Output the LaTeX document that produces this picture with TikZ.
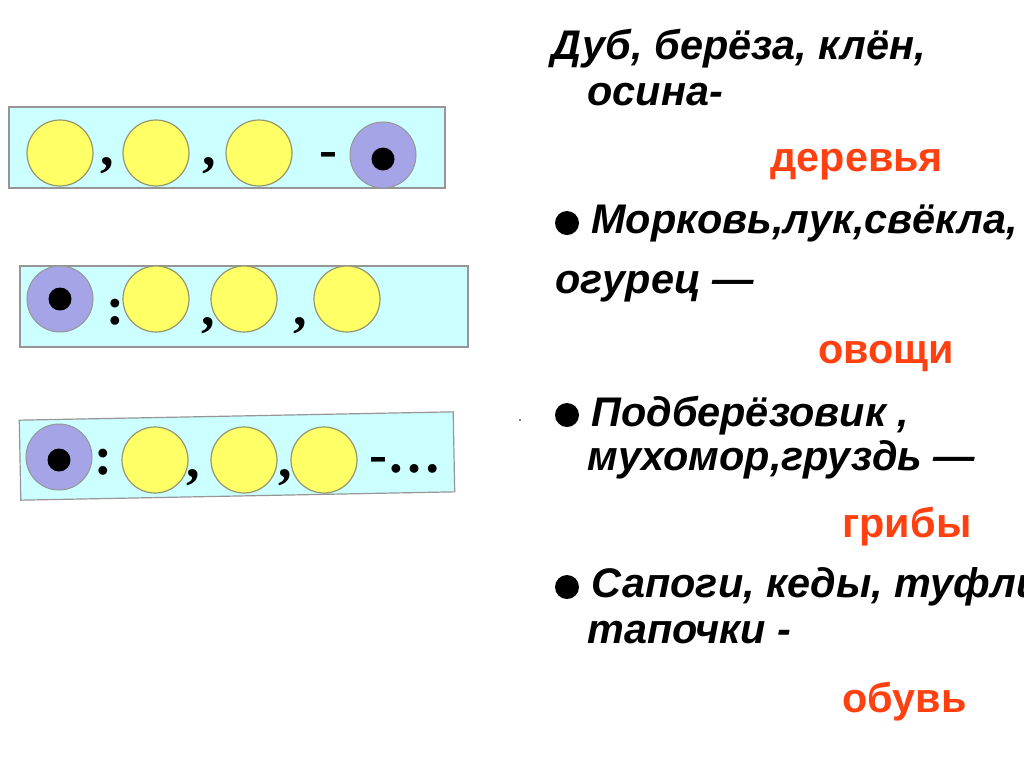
\documentclass[tikz,border=0pt]{standalone}
\usepackage{fontspec}
\setmainfont{Liberation Sans}
\newfontfamily\punctfont{Liberation Serif}
\usetikzlibrary{positioning}

\definecolor{boxcyan}{RGB}{204,255,255}
\definecolor{boxedge}{RGB}{150,150,150}
\definecolor{dotyellow}{RGB}{255,255,102}
\definecolor{dotedge}{RGB}{150,150,110}
\definecolor{setblue}{RGB}{164,164,230}
\definecolor{wordorange}{RGB}{255,64,16}

\begin{document}
\begin{tikzpicture}[x=0.5pt, y=-0.5pt,
  every node/.style={inner sep=0pt},
  rowbox/.style={fill=boxcyan, draw=boxedge, line width=0.6pt},
  member/.style={circle, fill=dotyellow, draw=dotedge, line width=0.6pt, minimum size=33pt},
  setring/.style={circle, fill=setblue, draw=boxedge, line width=0.5pt, minimum size=33pt},
  setcore/.style={circle, fill=black, minimum size=11.5pt},
  punct/.style={anchor=base, font=\punctfont\fontsize{27}{27}\selectfont\bfseries},
  item/.style={anchor=base west, font=\fontsize{20.7}{24}\selectfont\bfseries\itshape},
  group/.style={anchor=base west, text=wordorange, font=\fontsize{20.7}{24}\selectfont\bfseries},
  bullet/.style={circle, fill=black, minimum size=12pt}]
\useasboundingbox (0,0) rectangle (1024,767);
\fill[white] (0,0) rectangle (1024,767);

% first row: members, then the set
\draw[rowbox] (9,107) rectangle (445,188);
\node[member] (m11) at (60,153) {};
\node[member] (m12) at (156,153) {};
\node[member] (m13) at (259,153) {};
\node[setring] (s1) at (383,155) {};
\node[setcore] (c1) at (383,159) {};
\node[punct] (k11) at (107,165) {,};
\node[punct] (k12) at (209,165) {,};
\node[punct] (d1) at (328,167) {-};

% second row: the set, then members
\draw[rowbox] (20,266) rectangle (468,347);
\node[setring] (s2) at (60,299) {};
\node[setcore] (c2) at (60,299) {};
\node[punct] (p2) at (115,324) {:};
\node[member] (m21) at (156,299) {};
\node[member] (m22) at (244,299) {};
\node[member] (m23) at (347,299) {};
\node[punct] (k21) at (208,325) {,};
\node[punct] (k22) at (300,325) {,};

% third row, slightly tilted
\draw[rowbox, rotate around={1.1:(237,456)}] (20,416) rectangle (454,496);
\node[setring] (s3) at (59,457) {};
\node[setcore] (c3) at (59,460) {};
\node[punct] (p3) at (103,474) {:};
\node[member] (m31) at (155,460) {};
\node[member] (m32) at (244,460) {};
\node[member] (m33) at (324,460) {};
\node[punct] (k31) at (193,477) {,};
\node[punct] (k32) at (285,477) {,};
\node[punct, anchor=base west] (e3) at (369,472) {-\dots};

\fill (520,420) circle (0.8);

% words and their groups
\node[item] (t1) at (551,59) {Дуб, берёза, клён,};
\node[item] (t1b) at (587,105) {осина-};
\node[group] (g1) at (770,171) {деревья};

\node[bullet] (b2) at (567,223) {};
\node[item] (t2) at (591,233) {Морковь,лук,свёкла,};
\node[item] (t2b) at (555,293) {огурец —};
\node[group] (g2) at (818,363) {овощи};

\node[bullet] (b3) at (567,415) {};
\node[item] (t3) at (591,426) {Подберёзовик ,};
\node[item] (t3b) at (587,470) {мухомор,груздь —};
\node[group] (g3) at (842,537) {грибы};

\node[bullet] (b4) at (567,587) {};
\node[item] (t4) at (591,597) {Сапоги, кеды, туфли,};
\node[item] (t4b) at (587,643) {тапочки -};
\node[group] (g4) at (842,712) {обувь};
\end{tikzpicture}
\end{document}
